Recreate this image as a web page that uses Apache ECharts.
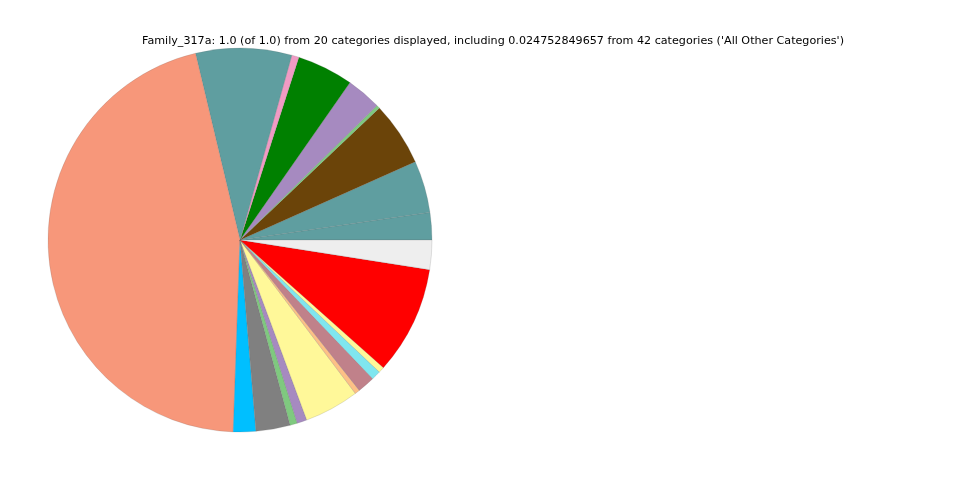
<!DOCTYPE html>
<html>
<head>
<meta charset="utf-8">
<script src="https://cdn.jsdelivr.net/npm/echarts@6/dist/echarts.min.js"></script>
<style>html,body{margin:0;padding:0;background:#fff;}#c{width:960px;height:480px;}</style>
</head>
<body>
<div id="c"></div>
<script>
const titleText = "Family_317a: 1.0 (of 1.0) from 20 categories displayed, including 0.024752849657 from 42 categories ('All Other Categories')";
const categories = ["c1","c2","c3","c4","c5","c6","c7","c8","c9","c10","c11","c12","c13","c14","c15","c16","c17","c18","c19","All Other Categories"];
// angular sizes (degrees), converted to fractions
const sliceDegrees = [8.3, 15.8, 19.4, 1.0, 10.6, 17.1, 2.2, 29.1, 164.7, 6.8, 10.4, 2.2, 3.0, 16.6, 1.5, 5.3, 2.8, 1.8, 32.8, 8.9];
const sliceColors = ["#5f9ea0","#5f9ea0","#6b4409","#7fc97f","#a68ac0","#008000","#f09bc4","#5f9ea0","#f7977a","#00bfff","#808080","#7fc97f","#a68ac0","#fff899","#fdc086","#c0818a","#7fe6ef","#fff899","#ff0000","#eeeeee"];

const total = sliceDegrees.reduce((a,b)=>a+b,0);
const data = categories.map((n,i)=>({name:n, value: sliceDegrees[i]/total, itemStyle:{color:sliceColors[i]}}));

const chart = echarts.init(document.getElementById('c'), null, {renderer:'canvas'});
chart.setOption({
  animation:false,
  title:{text:titleText, left:142, top:35.5, padding:0,
    textStyle:{fontFamily:'DejaVu Sans', fontSize:11.15, fontWeight:'normal', color:'#000'}},
  series:[{
    type:'pie', center:[240,240], radius:192, startAngle:0, clockwise:false,
    label:{show:false}, labelLine:{show:false}, emphasis:{disabled:true},
    minAngle:0, avoidLabelOverlap:false,
    itemStyle:{borderColor:'rgba(90,90,90,0.35)', borderWidth:0.5},
    data:data
  }]
});
</script>
</body>
</html>
